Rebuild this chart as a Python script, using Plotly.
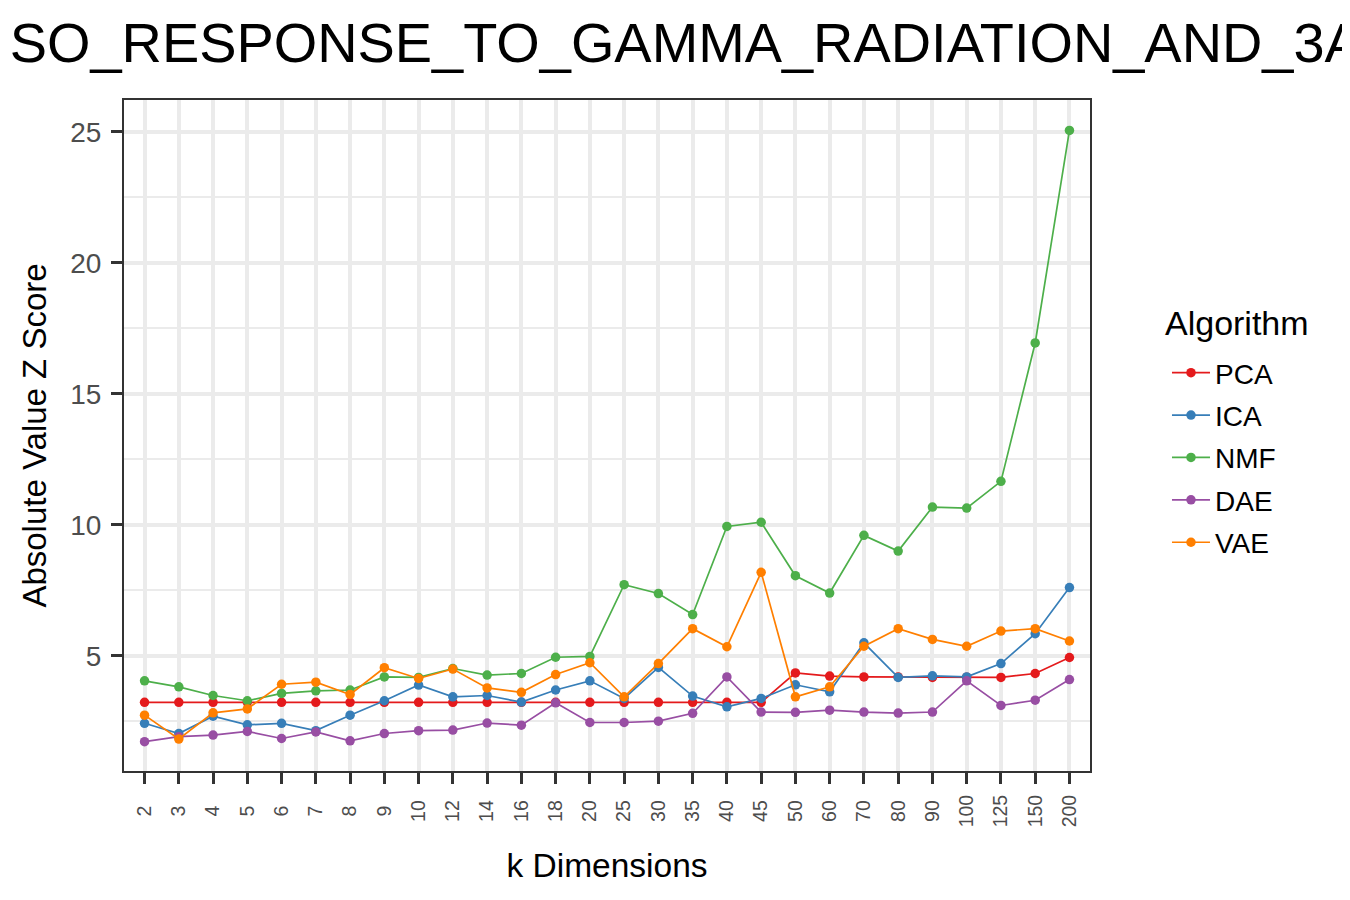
import plotly.graph_objects as go

# ------------------ Dados ------------------ #

k_dims = ["2", "3", "4", "5", "6", "7", "8", "9", "10", "12", "14", "16", "18", "20",
          "25", "30", "35", "40", "45", "50", "60", "70", "80", "90", "100", "125",
          "150", "200"]

pca = [3.23, 3.23, 3.23, 3.23, 3.23, 3.23, 3.23, 3.23, 3.23, 3.23, 3.23, 3.23, 3.23, 3.23,
       3.23, 3.23, 3.23, 3.23, 3.23, 4.35, 4.23, 4.20, 4.20, 4.18, 4.19, 4.18, 4.33, 4.94]
ica = [2.43, 2.04, 2.70, 2.37, 2.43, 2.15, 2.74, 3.29, 3.89, 3.44, 3.49, 3.24, 3.70, 4.05,
       3.38, 4.56, 3.47, 3.06, 3.38, 3.90, 3.63, 5.50, 4.18, 4.24, 4.20, 4.71, 5.85, 7.61]
nmf = [4.05, 3.82, 3.49, 3.29, 3.57, 3.67, 3.70, 4.20, 4.18, 4.52, 4.27, 4.33, 4.95, 4.98,
       7.72, 7.38, 6.58, 9.94, 10.10, 8.06, 7.40, 9.60, 9.00, 10.68, 10.64, 11.66, 16.94, 25.05]
dae = [1.73, 1.92, 1.98, 2.12, 1.85, 2.10, 1.76, 2.04, 2.15, 2.17, 2.44, 2.36, 3.21, 2.46,
       2.46, 2.51, 2.81, 4.20, 2.86, 2.85, 2.93, 2.86, 2.82, 2.86, 4.05, 3.11, 3.31, 4.10]
vae = [2.74, 1.83, 2.83, 2.98, 3.92, 4.00, 3.53, 4.55, 4.14, 4.50, 3.78, 3.61, 4.29, 4.74,
       3.44, 4.71, 6.04, 5.35, 8.19, 3.44, 3.82, 5.37, 6.04, 5.63, 5.37, 5.95, 6.04, 5.57]

algoritmos = ["PCA", "ICA", "NMF", "DAE", "VAE"]
series = [pca, ica, nmf, dae, vae]
cores = ["#E41A1C", "#377EB8", "#4DAF4A", "#984EA3", "#FF7F00"]

titulo = "DSO_RESPONSE_TO_GAMMA_RADIATION_AND_3AB"

FONTE = "Liberation Sans, Arial, Helvetica, sans-serif"

# rotulos do eixo x centrados como no ggplot (espacos no fim empurram os curtos)
rotulos_x = [k + "\u00a0" * (3 - len(k)) for k in k_dims]

# ------------------ Grafico ------------------ #

fig = go.Figure()
for nome, valores, cor in zip(algoritmos, series, cores):
    fig.add_trace(
        go.Scatter(
            x=k_dims,
            y=valores,
            mode="lines+markers",
            name=nome,
            legendgroup=nome,
            line=dict(color=cor, width=1.7),
            marker=dict(color=cor, size=9.5),
        )
    )

# a pagina tem margem de 8px no body, por isso as margens compensam
fig.update_layout(
    width=1350,
    height=900,
    paper_bgcolor="white",
    plot_bgcolor="white",
    margin=dict(l=116, r=268, t=92, b=137),
    font=dict(family=FONTE, color="black"),
    title=dict(
        text=titulo,
        x=0.5009,
        xref="container",
        xanchor="center",
        y=1 - 34 / 900,
        yanchor="middle",
        font=dict(size=55.9, color="black"),
    ),
    showlegend=True,
    legend=dict(
        font=dict(size=28),
        x=1.0797,
        xanchor="left",
        y=0.6305,
        yanchor="top",
        tracegroupgap=3,
        itemwidth=38,
    ),
    annotations=[
        dict(
            text="Algorithm",
            xref="paper",
            yref="paper",
            x=1.0756,
            y=0.6677,
            xanchor="left",
            yanchor="middle",
            showarrow=False,
            font=dict(size=34, color="black"),
        )
    ],
)

fig.update_xaxes(
    type="category",
    categoryorder="array",
    categoryarray=k_dims,
    tickvals=k_dims,
    ticktext=rotulos_x,
    range=[-0.6, len(k_dims) - 0.4],
    tickangle=-90,
    tickfont=dict(size=19.5, color="#4D4D4D"),
    ticks="outside",
    ticklen=11,
    tickwidth=3,
    tickcolor="#333333",
    ticklabelstandoff=3,
    showgrid=True,
    gridcolor="#EBEBEB",
    gridwidth=3.5,
    showline=True,
    linecolor="#333333",
    linewidth=2,
    mirror=True,
    zeroline=False,
    title=dict(text="k Dimensions", font=dict(size=33.5), standoff=27),
)

fig.update_yaxes(
    range=[0.61, 26.21],
    tick0=0,
    dtick=5,
    tickfont=dict(size=28, color="#4D4D4D"),
    ticks="outside",
    ticklen=11,
    tickwidth=3,
    tickcolor="#333333",
    ticklabelstandoff=4,
    showgrid=True,
    gridcolor="#EBEBEB",
    gridwidth=3.5,
    minor=dict(dtick=2.5, tick0=0, showgrid=True, gridcolor="#EBEBEB", gridwidth=2, ticks=""),
    showline=True,
    linecolor="#333333",
    linewidth=2,
    mirror=True,
    zeroline=False,
    title=dict(text="Absolute Value Z Score", font=dict(size=33), standoff=14),
)

fig.write_html("out.html")
